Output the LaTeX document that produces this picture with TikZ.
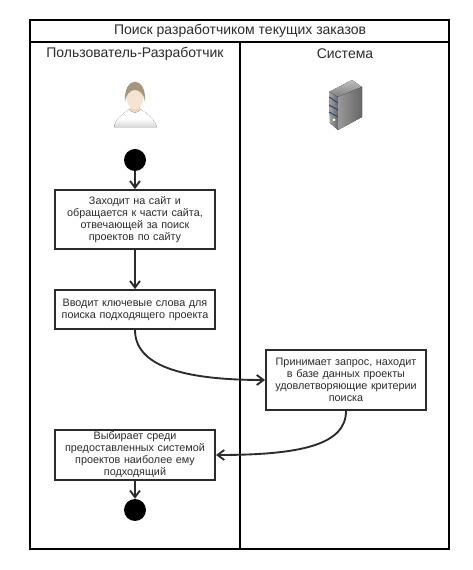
\documentclass[tikz,border=0pt]{standalone}
\usepackage{fontspec}
\setmainfont{Liberation Sans}
\usetikzlibrary{arrows.meta}
\usetikzlibrary{positioning}
\definecolor{inkgray}{HTML}{2B2B2B}
\definecolor{skin}{HTML}{F7E3D3}
\definecolor{hair}{HTML}{A8957F}
\definecolor{stripe}{HTML}{2A4A7A}
\tikzset{
  framework/.style={line width=1.6pt,draw=black},
  stepbox/.style={draw=inkgray,line width=1.5pt,fill=white,align=center,inner sep=0pt,
    minimum width=120pt,text width=116pt,font=\fontsize{8.1}{9}\selectfont,text=inkgray},
  dot/.style={circle,fill=black,draw=none,minimum size=16.5pt,inner sep=0pt},
  flow/.style={line width=1.4pt,draw=inkgray,-{Straight Barb[length=5pt,width=7.5pt]}},
  lanehead/.style={font=\fontsize{10.5}{12}\selectfont,text=inkgray,inner sep=0pt},
}
\begin{document}
\begin{tikzpicture}[x=0.75pt,y=0.75pt]
\useasboundingbox (0,0) rectangle (472,570);
\fill[white] (0,0) rectangle (472,570);

\draw[framework] (30,21) rectangle (449,550);
\draw[framework] (30,528) -- (449,528);
\draw[framework] (240,528) -- (240,21);

\node (title) [lanehead] at (240,539) {Поиск разработчиком текущих заказов};
\node (laneU) [lanehead] at (135,516) {Пользователь-Разработчик};
\node (laneS) [lanehead] at (345,516) {Система};

% user
\fill[skin!85!brown] (130,468) rectangle (140,455);
\fill[top color=white,bottom color=gray!35,middle color=white] (114,442)
  .. controls (115,452) and (124,456) .. (129,461)
  .. controls (132,456) and (138,456) .. (141,461)
  .. controls (146,456) and (155,452) .. (157,442) -- cycle;
\fill[skin] (135,473) ellipse [x radius=8.5,y radius=12.5];
\fill[hair] (125,468) .. controls (123,495) and (147,495) .. (145,468)
  .. controls (143,484) and (127,484) .. (125,468);

% server
\fill[top color=gray!50,bottom color=gray] (329,478) -- (352,490) -- (362,483) -- (338,473) -- cycle;
\fill[left color=gray!70,right color=black!60] (329,478) -- (338,473) -- (338,440) -- (330,447) -- cycle;
\fill[left color=gray!80,right color=black!60] (338,473) -- (362,483) -- (362,453) -- (338,440) -- cycle;
\draw[stripe,line width=0.8pt] (329,473) -- (338,467) (329,465) -- (338,460) (329,458) -- (338,453);
\fill[white] (334,450) circle [radius=1.5];

\draw (135,410) node(start) [dot] {}
++(270:59.5) node(visit) [stepbox,minimum height=44pt] {Заходит на сайт и\\обращается к части сайта,\\отвечающей за поиск\\проектов по сайту}
++(270:90) node(query) [stepbox,minimum height=29pt] {Вводит ключевые слова для\\поиска подходящего проекта}
++(270:145.5) node(choose) [stepbox,minimum height=37.5pt] {Выбирает среди\\предоставленных системой\\проектов наиболее ему\\подходящий}
++(270:55) node(finish) [dot] {};

\node (answer) [stepbox,minimum height=45pt] at (346,190) {Принимает запрос, находит\\в базе данных проекты\\удовлетворяющие критерии\\поиска};

\draw[flow] (start) -- (visit);
\draw[flow] (visit) -- (query);
\draw[flow] (query.south) .. controls (135,205) and (180,190) .. (answer.west);
\draw[flow] (answer.south) .. controls (346,125) and (300,115) .. (choose.east);
\draw[flow] (choose) -- (finish);

\end{tikzpicture}
\end{document}
